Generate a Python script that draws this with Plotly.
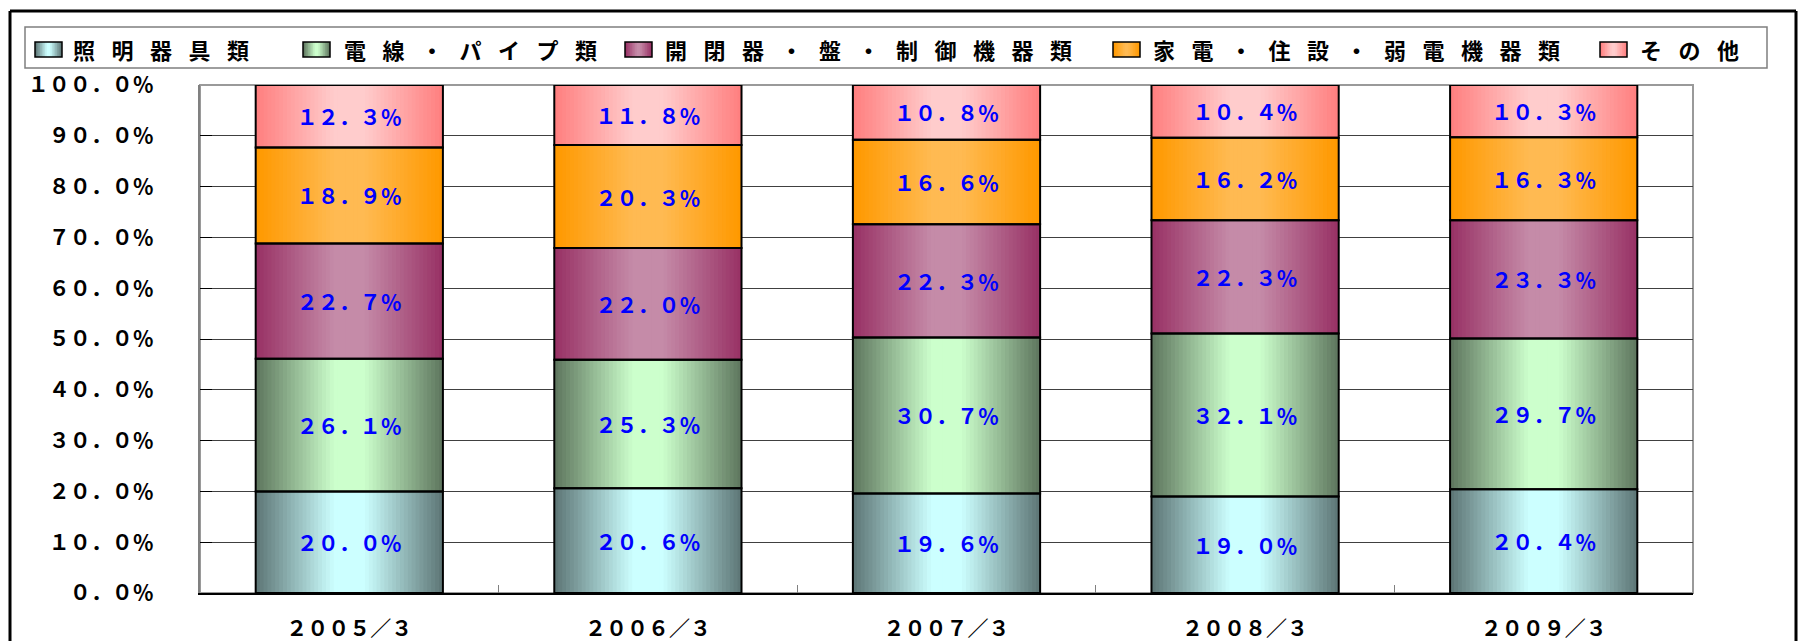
import numpy as np
import plotly.graph_objects as go

# ---------------- data ----------------
periods = ["2005/3", "2006/3", "2007/3", "2008/3", "2009/3"]
series_names = ["照明器具類", "電線・パイプ類", "開閉器・盤・制御機器類", "家電・住設・弱電機器類", "その他"]
lighting = [20.0, 20.6, 19.6, 19.0, 20.4]
wire_pipe = [26.1, 25.3, 30.7, 32.1, 29.7]
switchgear = [22.7, 22.0, 22.3, 22.3, 23.3]
appliances = [18.9, 20.3, 16.6, 16.2, 16.3]
others = [12.3, 11.8, 10.8, 10.4, 10.3]
y_tick_values = [0, 10, 20, 30, 40, 50, 60, 70, 80, 90, 100]
y_tick_labels = ["0.0%", "10.0%", "20.0%", "30.0%", "40.0%", "50.0%",
                 "60.0%", "70.0%", "80.0%", "90.0%", "100.0%"]

series_values = [lighting, wire_pipe, switchgear, appliances, others]

# ---------------- styling ----------------
FONT = "Noto Sans CJK JP"
edge_colors = [(95, 120, 120), (96, 120, 96), (153, 51, 102), (255, 153, 0), (255, 128, 128)]
center_colors = [(204, 255, 255), (204, 255, 204), (197, 139, 168), (255, 186, 82), (255, 204, 204)]
BAR_W = 0.627
N_BANDS = 24
NUM_SIZE = 21

FW = {ord(c): ord(c) + 0xFEE0 for c in "0123456789.%/"}


def fullwidth(s):
    return s.translate(FW)


def mix(c0, c1, f):
    r, g, b = (int(round(a + (b_ - a) * f)) for a, b_ in zip(c0, c1))
    return f"rgb({r},{g},{b})"


def profile(t):
    return min(1.0, max(0.0, (t - 0.18) / 0.82))


x_labels = [fullwidth(p) for p in periods]

fig = go.Figure()

bases = np.cumsum([[0] * len(periods)] + series_values[:-1], axis=0)

# gradient bands
for si, vals in enumerate(series_values):
    for k in range(N_BANDS):
        frac = 1 - k / N_BANDS
        fig.add_trace(go.Bar(
            x=x_labels, y=vals, base=bases[si], width=BAR_W * frac,
            marker=dict(color=mix(center_colors[si], edge_colors[si], profile(frac)),
                        line=dict(width=0)),
            showlegend=False, hoverinfo="skip"))

# outlines + labels
for si, vals in enumerate(series_values):
    fig.add_trace(go.Bar(
        x=x_labels, y=vals, base=bases[si], width=BAR_W, name=series_names[si],
        marker=dict(color="rgba(0,0,0,0)", line=dict(color="black", width=2)),
        text=[fullwidth(f"{v:.1f}%") for v in vals],
        textposition="inside", insidetextanchor="middle", textangle=0,
        constraintext="none",
        textfont=dict(color="#0000FF", size=NUM_SIZE, family=FONT, weight="bold"),
        showlegend=False))

L, R, T, B = 200, 1693, 85, 593
W_FIG, H_FIG = 1799, 641


def px2x(px):
    return (px - L) / (R - L)


def py2y(py):
    return (B - py) / (B - T)


shapes = []
# outer frame (left, top, right)
for x0, y0, x1, y1 in [(10, 11, 10, 700), (10, 11, 1796, 11), (1796, 11, 1796, 700)]:
    shapes.append(dict(type="line", xref="paper", yref="paper",
                       x0=px2x(x0), y0=py2y(y0), x1=px2x(x1), y1=py2y(y1),
                       line=dict(color="black", width=3)))
# legend box
shapes.append(dict(type="rect", xref="paper", yref="paper",
                   x0=px2x(25), y0=py2y(27), x1=px2x(1767), y1=py2y(68),
                   line=dict(color="#7f7f7f", width=1.5), fillcolor="white"))
# plot area frame (top / right gray)
shapes.append(dict(type="rect", xref="paper", yref="paper", x0=0, y0=0, x1=1, y1=1,
                   line=dict(color="#9a9a9a", width=2), layer="below"))

annotations = []
legend_sym_x = [35, 303, 625, 1113, 1600]
legend_txt_x = [71, 342, 663, 1151, 1638]
SEP = "\u2002\u2005"
for si, name in enumerate(series_names):
    sx0, sx1, sy0, sy1 = legend_sym_x[si], legend_sym_x[si] + 27, 42, 57
    nb = 8
    for k in range(nb):
        frac = 1 - k / nb
        half = 13.5 * frac
        cx = (sx0 + sx1) / 2
        shapes.append(dict(type="rect", xref="paper", yref="paper",
                           x0=px2x(cx - half), x1=px2x(cx + half), y0=py2y(sy1), y1=py2y(sy0),
                           line=dict(width=0),
                           fillcolor=mix(center_colors[si], edge_colors[si], profile(frac))))
    shapes.append(dict(type="rect", xref="paper", yref="paper",
                       x0=px2x(sx0), x1=px2x(sx1), y0=py2y(sy1), y1=py2y(sy0),
                       line=dict(color="black", width=1.5)))
    annotations.append(dict(xref="paper", yref="paper", x=px2x(legend_txt_x[si]), y=py2y(49),
                            xanchor="left", yanchor="middle", showarrow=False,
                            text=SEP.join(list(name)),
                            font=dict(family=FONT, size=22, color="black", weight="bold")))

fig.update_layout(
    width=W_FIG, height=H_FIG,
    margin=dict(l=L, r=W_FIG - R, t=T, b=H_FIG - B, autoexpand=False),
    paper_bgcolor="white", plot_bgcolor="white",
    barmode="overlay",
    showlegend=False,
    shapes=shapes, annotations=annotations,
    xaxis=dict(type="category", range=[-0.5, 4.5], tickson="boundaries",
               ticks="inside", ticklen=8, tickcolor="#808080", tickwidth=1,
               showline=True, linecolor="black", linewidth=2, showgrid=False,
               ticklabelstandoff=16, automargin=False,
               tickfont=dict(family=FONT, size=NUM_SIZE, color="black", weight="bold")),
    yaxis=dict(range=[0, 100], tickmode="array", tickvals=y_tick_values,
               ticktext=[fullwidth(t) for t in y_tick_labels],
               ticks="inside", ticklen=12, tickcolor="black", tickwidth=1,
               showline=True, linecolor="#808080", linewidth=2,
               showgrid=True, gridcolor="#404040", gridwidth=1, zeroline=False,
               ticklabelstandoff=40, automargin=False,
               tickfont=dict(family=FONT, size=NUM_SIZE, color="black", weight="bold")),
)

fig.write_html("out.html",
               config={"displayModeBar": False},
               post_script="document.body.style.margin='0';document.body.style.overflow='hidden';")
